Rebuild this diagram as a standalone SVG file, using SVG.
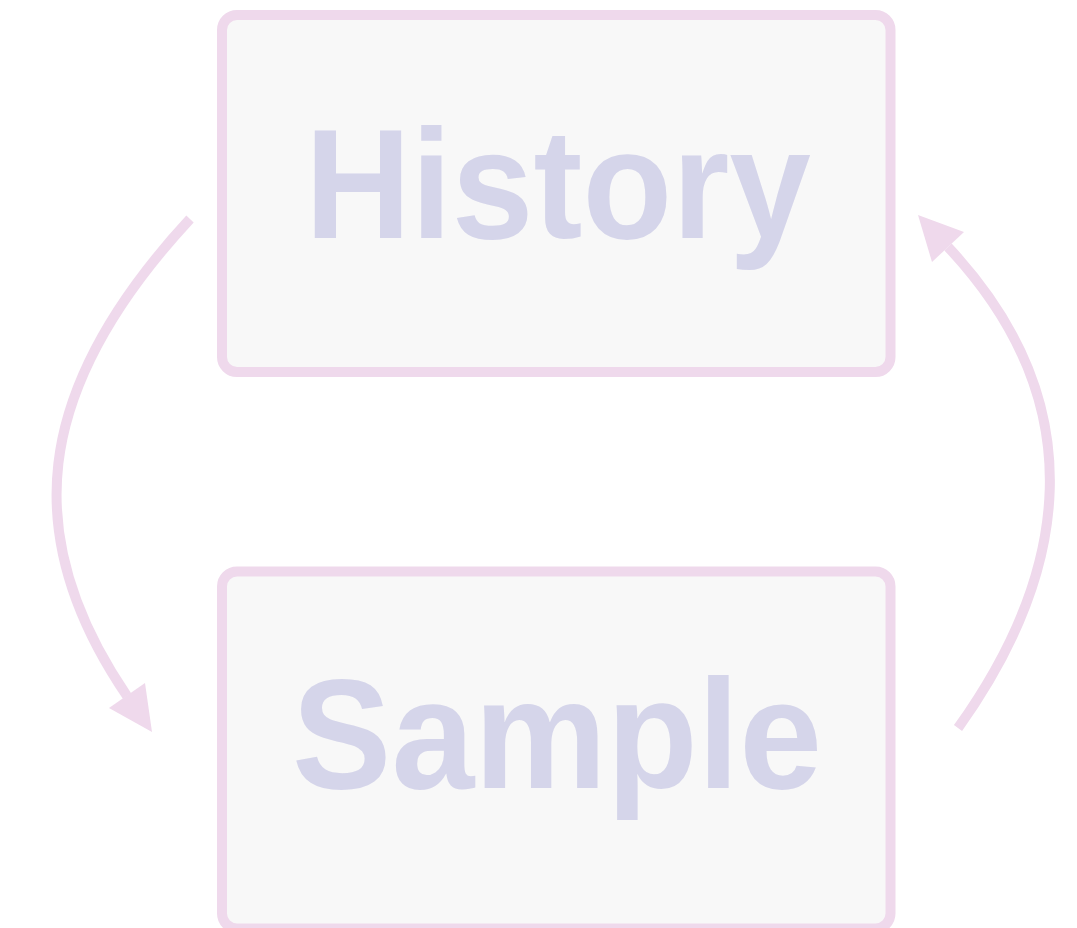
<svg xmlns="http://www.w3.org/2000/svg" width="1077" height="928" viewBox="0 0 1077 928">
  <style>
    .box { fill: #f8f8f8; stroke: #efd9ec; stroke-width: 10; }
    .label { font-family: "Liberation Sans", Arial, Helvetica, sans-serif; font-weight: bold; font-size: 155px; fill: #d5d5ea; text-anchor: middle; }
    .edge { fill: none; stroke: #efd9ec; stroke-width: 10; }
    .head { fill: #efd9ec; }
  </style>
  <rect width="1077" height="928" fill="#ffffff"/>

  <g id="node-history">
    <rect class="box" x="222" y="15" width="668.5" height="357" rx="15" ry="15"/>
    <text class="label" x="558" y="238" textLength="506" lengthAdjust="spacingAndGlyphs">History</text>
  </g>

  <g id="node-sample">
    <rect class="box" x="222" y="571.5" width="668.5" height="357" rx="15" ry="15"/>
    <text class="label" x="557" y="788" textLength="530" lengthAdjust="spacingAndGlyphs">Sample</text>
  </g>

  <g id="connectors">
    <!-- History to Sample, sweeping round the left side -->
    <path class="edge" d="M190,219 C30,392 20,539 127,696"/>
    <polygon class="head" points="152,732 109,708 145,683"/>
    <!-- Sample back to History, sweeping round the right side -->
    <path class="edge" d="M958,728 C1068,574 1096,405 948,247"/>
    <polygon class="head" points="918,215 964,232 932,262"/>
  </g>
</svg>
